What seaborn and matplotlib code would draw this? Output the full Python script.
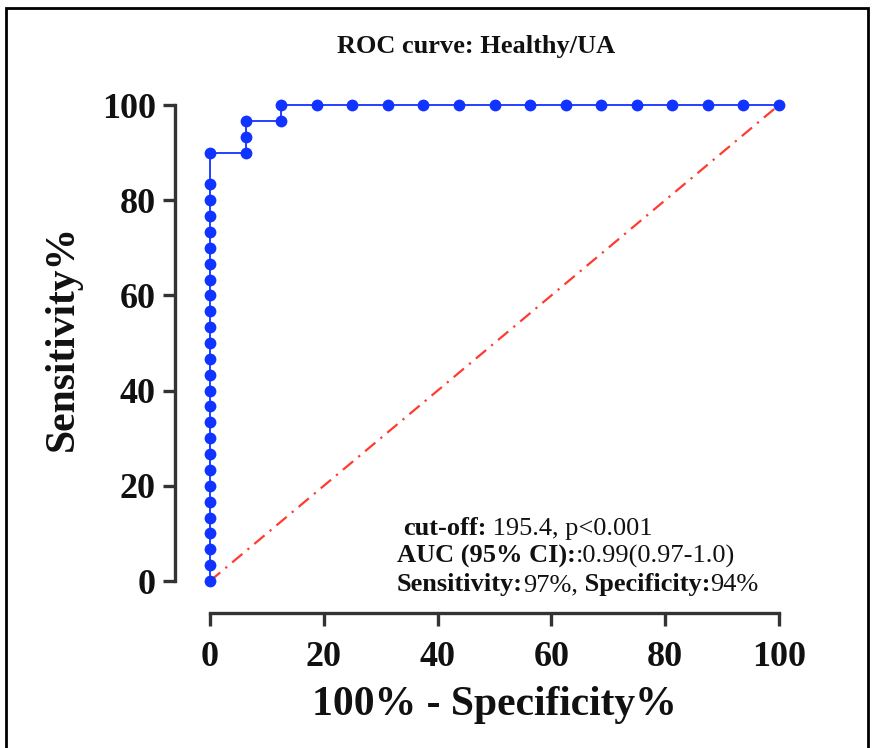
import numpy as np
import pandas as pd
import matplotlib
matplotlib.use("Agg")
import matplotlib.pyplot as plt
import seaborn as sns
from matplotlib.patches import Rectangle

# ---- data ----
fpr = [0.0] * 27 + [6.25, 6.25, 6.25, 12.5, 12.5] + [18.75, 25.0, 31.25, 37.5, 43.75, 50.0,
       56.25, 62.5, 68.75, 75.0, 81.25, 87.5, 93.75, 100.0]
tpr = [0.0, 3.33, 6.67, 10.0, 13.33, 16.67, 20.0, 23.33, 26.67, 30.0, 33.33, 36.67, 40.0,
       43.33, 46.67, 50.0, 53.33, 56.67, 60.0, 63.33, 66.67, 70.0, 73.33, 76.67, 80.0, 83.33,
       90.0, 90.0, 93.33, 96.67, 96.67, 100.0] + [100.0] * 14
ref_x = [0, 100]
ref_y = [0, 100]
xticks = [0, 20, 40, 60, 80, 100]
yticks = [0, 20, 40, 60, 80, 100]
title = "ROC curve: Healthy/UA"
xlabel = "100% - Specificity%"
ylabel = "Sensitivity%"
ann_lines = [
    [("cut-off:", "bold"), (" 195.4, p<0.001", "normal")],
    [("AUC (95% CI):", "bold"), (":0.99(0.97-1.0)", "normal")],
    [("Sensitivity:", "bold"), ("97%,", "normal"), (" Specificity:", "bold"), ("94%", "normal")],
]

df = pd.DataFrame({"x": fpr, "y": tpr})

sns.set_style("white")
plt.rcParams["font.family"] = ["Liberation Serif", "DejaVu Serif"]

W, H = 877, 748
fig = plt.figure(figsize=(W / 100, H / 100), dpi=100)
ax = fig.add_axes([210 / W, 1 - 581 / H, (779 - 210) / W, (581 - 105) / H])

ax.plot(ref_x, ref_y, color="#ff3b30", lw=1.6, ls=(0, (6, 3, 1, 3)), zorder=1, clip_on=False)
sns.lineplot(data=df, x="x", y="y", sort=False, estimator=None, ax=ax, color="#1133ff",
             lw=1.3, marker="o", markersize=8.5, markeredgewidth=0, zorder=3, clip_on=False)

for s in ["top", "right"]:
    ax.spines[s].set_visible(False)
ax.spines["left"].set_position(("outward", 25))
ax.spines["bottom"].set_position(("outward", 23))
for s in ["left", "bottom"]:
    ax.spines[s].set_linewidth(2.4)
    ax.spines[s].set_color("#333333")

ax.set_xlim(0, 100)
ax.set_ylim(0, 100)
ax.set_xticks(xticks)
ax.set_yticks(yticks)
ax.set_xticklabels([str(t) for t in xticks], fontsize=26, fontweight="bold")
ax.set_yticklabels([str(t) for t in yticks], fontsize=26, fontweight="bold")
ax.tick_params(axis="both", direction="out", length=9, width=2.4, color="#333333",
               bottom=True, left=True, labelcolor="#111111")
ax.tick_params(axis="x", pad=11)
ax.tick_params(axis="y", pad=5)
ax.set_xlabel(xlabel, fontsize=30, fontweight="bold", labelpad=9, color="#111111")
ax.set_ylabel(ylabel, fontsize=30, fontweight="bold", color="#111111")
ax.yaxis.set_label_coords(-0.225, 0.51)
ax.grid(False)

fig.text(476 / W, 1 - 47 / H, title, fontsize=19, fontweight="bold", ha="center", va="center",
         color="#111111")

# figure frame
fig.patches.append(Rectangle((6 / W, -0.05), (868 - 6) / W, 1.05 - 8 / H, transform=fig.transFigure,
                             fill=False, lw=2, edgecolor="black"))

# annotation with mixed weights
fig.canvas.draw()
renderer = fig.canvas.get_renderer()
starts = [(403, 535), (397, 563), (397, 591)]
for (px, py), parts in zip(starts, ann_lines):
    x = px
    for txt, w in parts:
        t = fig.text(x / W, 1 - py / H, txt, fontsize=19, fontweight=w, color="#111111",
                     ha="left", va="baseline")
        bb = t.get_window_extent(renderer=renderer)
        x += bb.width

fig.savefig("out.png", dpi=100)
